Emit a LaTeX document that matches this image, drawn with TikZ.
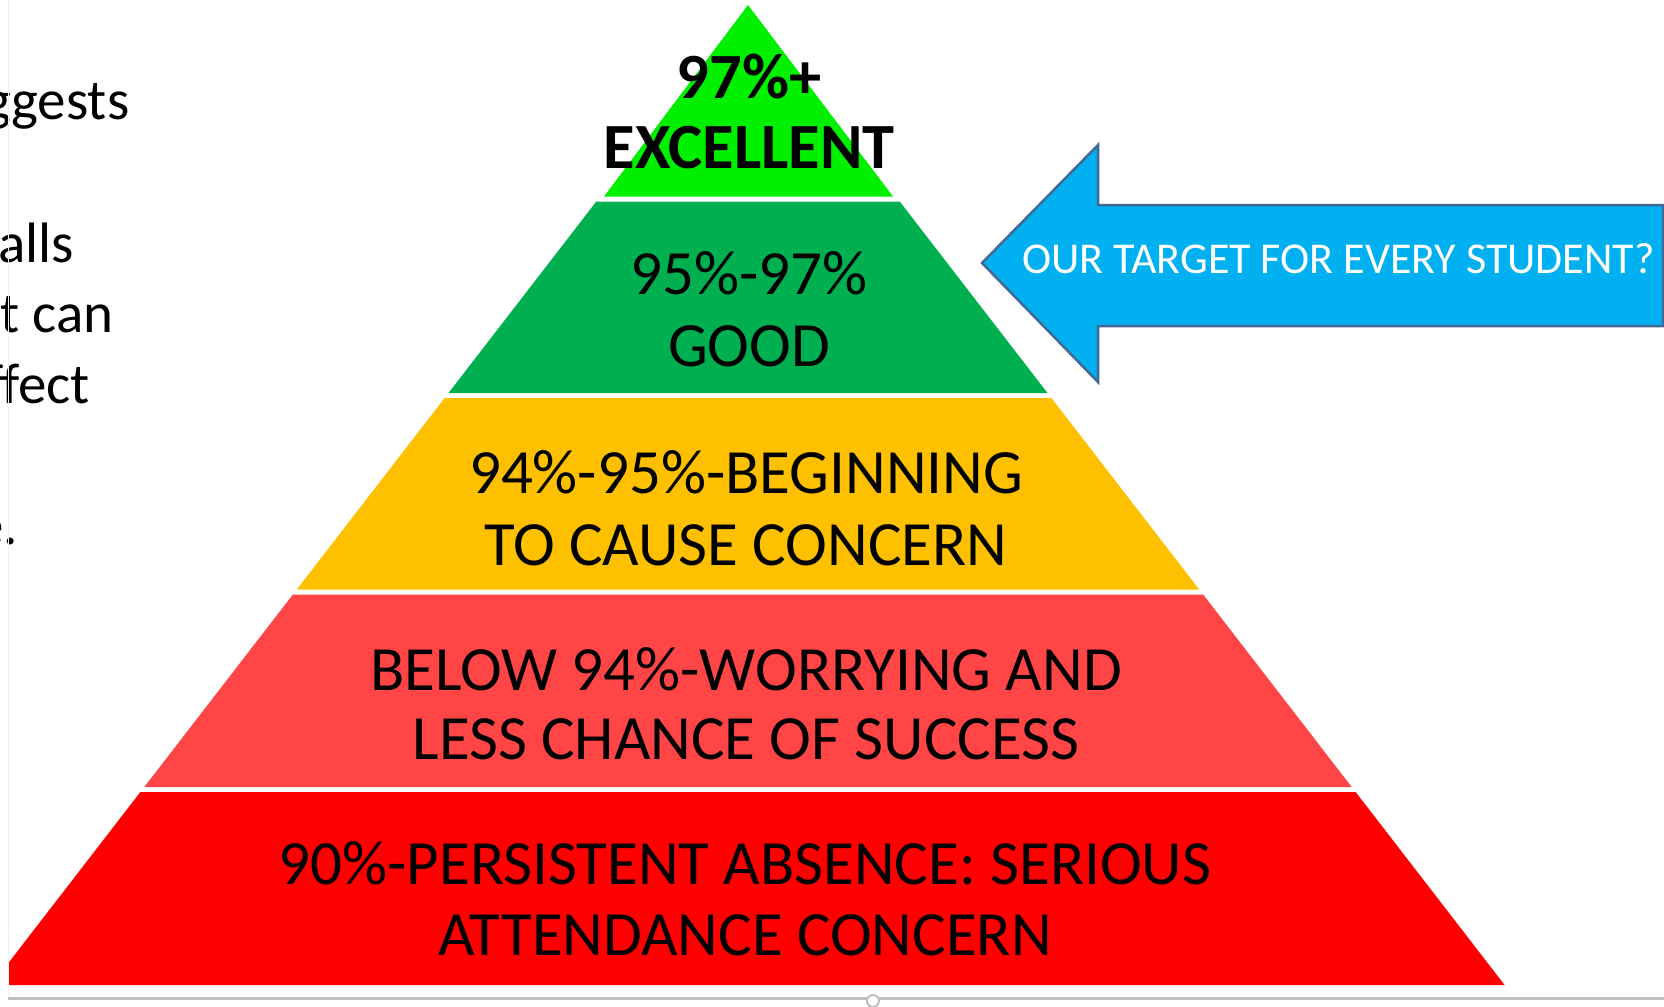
\documentclass[tikz,border=0pt]{standalone}
\usepackage{fontspec}
\setmainfont{Carlito}
\definecolor{tierA}{RGB}{0,240,0}
\definecolor{tierB}{RGB}{0,176,80}
\definecolor{tierC}{RGB}{255,192,0}
\definecolor{tierD}{RGB}{255,69,69}
\definecolor{tierE}{RGB}{255,0,0}
\definecolor{arrowfill}{RGB}{0,176,240}
\definecolor{arrowline}{RGB}{65,105,150}
\definecolor{edgegray}{RGB}{192,192,192}
\begin{document}
\begin{tikzpicture}[x=1pt,y=-1pt,
  tierlbl/.style={font=\fontsize{63}{71}\selectfont, align=center, inner sep=0pt, anchor=base},
  sidetxt/.style={font=\fontsize{57}{70}\selectfont, inner sep=0pt, anchor=base east},
  arrowtxt/.style={font=\fontsize{44}{50}\selectfont, text=white, inner sep=0pt, anchor=base west}]
\useasboundingbox (0,0) rectangle (1664,1006);
\fill[white] (0,0) rectangle (1664,1006);
% left text fragments (cut by the slide edge)
\node[sidetxt] (s1) at (129.5,120) {suggests};
\node[sidetxt] (s2) at (74,262) {calls};
\node[sidetxt] (s3) at (113.5,332) {it can};
\node[sidetxt] (s4) at (90,403) {affect};
\node[sidetxt] (s5) at (18,544) {e.};
% pyramid
\begin{scope}
\clip (8,0) rectangle (1664,990);
\fill[tierA] (748,5) -- (893,196.5) -- (604,196.5) -- cycle;
\fill[tierB] (596.3,201.5) -- (899.7,201.5) -- (1047.5,393) -- (448.5,393) -- cycle;
\fill[tierC] (444.6,398) -- (1051.4,398) -- (1199.2,589.5) -- (296.8,589.5) -- cycle;
\fill[tierD] (292.9,594.5) -- (1203.1,594.5) -- (1351.7,787) -- (144.3,787) -- cycle;
\fill[tierE] (140.4,792) -- (1355.6,792) -- (1504.6,985) -- (-8.6,985) -- cycle;
\end{scope}
\node[tierlbl, font=\fontsize{64.5}{70}\selectfont\bfseries] (l1) at (749,168) {97\%+\\EXCELLENT};
\node[tierlbl, font=\fontsize{63}{72}\selectfont] (l2) at (749,366) {95\%-97\%\\GOOD};
\node[tierlbl, font=\fontsize{63}{72}\selectfont] (l3) at (746,565) {94\%-95\%-BEGINNING\\TO CAUSE CONCERN};
\node[tierlbl, font=\fontsize{63}{69}\selectfont] (l4) at (746,759) {BELOW 94\%-WORRYING AND\\LESS CHANCE OF SUCCESS};
\node[tierlbl] (l5) at (745,955) {90\%-PERSISTENT ABSENCE: SERIOUS\\ATTENDANCE CONCERN};
% arrow
\draw[fill=arrowfill, draw=arrowline, line width=2.5pt, line join=miter]
  (982,263) -- (1098,145) -- (1098,205) -- (1663,205) -- (1663,326) -- (1098,326) -- (1098,382) -- cycle;
\node[arrowtxt] (at) at (1022,273) {OUR TARGET FOR EVERY STUDENT?};
% slide edges
\draw[gray!12, line width=1pt] (8,0) -- (8,996);
\draw[edgegray, line width=3pt] (8,998) -- (1664,998);
\draw[edgegray, fill=white, line width=2pt] (873,1001) circle (6);
\end{tikzpicture}
\end{document}
